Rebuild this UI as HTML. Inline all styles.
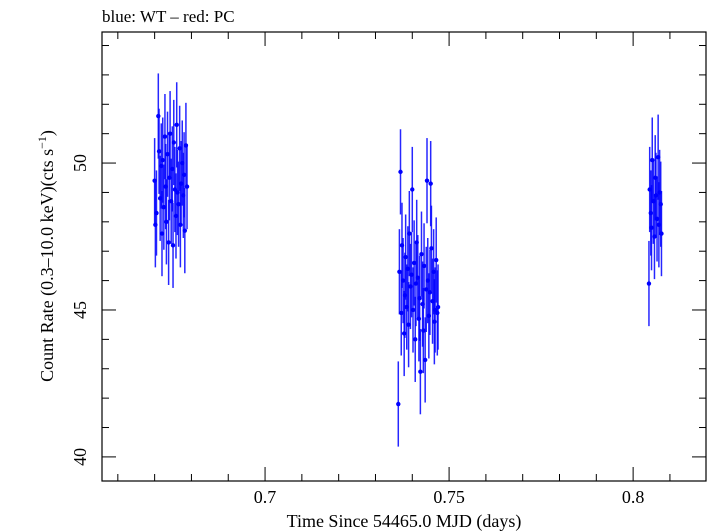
<!DOCTYPE html>
<html><head><meta charset="utf-8"><style>
html,body{margin:0;padding:0;background:#fff;}
svg{display:block;font-family:"Liberation Serif",serif;}
</style></head><body>
<svg id="chart" width="709" height="532" viewBox="0 0 709 532">
<text x="102" y="22" font-size="17" fill="#000">blue: WT – red: PC</text>
<rect x="102" y="32" width="604" height="449" fill="none" stroke="#000" stroke-width="1.2"/>
<g id="axes"></g>
<g id="marks"></g>
<text x="404" y="527" font-size="18" text-anchor="middle">Time Since 54465.0 MJD (days)</text>
<text transform="translate(53,256) rotate(-90)" font-size="18" text-anchor="middle">Count Rate (0.3–10.0 keV)(cts s<tspan baseline-shift="super" font-size="12">−1</tspan>)</text>
</svg>
<script>
const times = [0.6700,0.6702,0.6705,0.6710,0.6712,0.6715,0.6718,0.6720,0.6722,0.6725,0.6728,0.6730,0.6732,0.6735,0.6738,0.6740,0.6742,0.6745,0.6748,0.6750,0.6752,0.6755,0.6758,0.6760,0.6762,0.6765,0.6768,0.6770,0.6772,0.6775,0.6778,0.6780,0.6782,0.6785,0.6788,
0.7362,0.7365,0.7368,0.7370,0.7372,0.7375,0.7378,0.7380,0.7382,0.7385,0.7388,0.7390,0.7392,0.7395,0.7398,0.7400,0.7402,0.7405,0.7408,0.7410,0.7412,0.7415,0.7418,0.7420,0.7422,0.7425,0.7428,0.7430,0.7432,0.7435,0.7438,0.7440,0.7442,0.7445,0.7448,0.7450,0.7452,0.7455,0.7458,0.7460,0.7462,0.7465,0.7468,0.7470,
0.8043,0.8045,0.8048,0.8050,0.8052,0.8055,0.8058,0.8060,0.8062,0.8065,0.8068,0.8070,0.8072,0.8075,0.8077];
const rates = [49.4,47.9,48.3,51.6,50.4,48.8,49.9,47.6,50.1,48.5,50.9,49.2,48.0,50.3,47.3,49.5,51.0,48.7,49.8,47.2,50.7,49.1,48.2,51.3,49.0,48.6,50.5,47.9,49.3,50.0,48.9,49.6,47.7,50.6,49.2,
41.8,46.3,49.7,44.9,47.2,46.0,44.2,45.5,46.8,45.1,46.4,44.5,47.6,45.8,46.2,49.1,45.0,46.6,44.0,45.9,47.3,46.1,44.7,45.4,42.9,46.9,45.2,44.3,46.5,43.3,45.7,49.4,46.0,44.8,45.6,49.3,47.1,45.3,46.3,44.6,45.0,46.7,44.9,45.1,
45.9,49.1,48.3,47.8,50.1,48.7,47.5,49.5,48.9,48.1,50.2,47.9,49.0,48.6,47.6];
const errors = times.map(()=>1.45);
const xTickLabels = ["0.7","0.75","0.8"];
const yTickLabels = ["40","45","50"];

const X0=102,X1=706,Y0=481,Y1=32;
const xMin=0.6557,xMax=0.8198,yMin=39.18,yMax=54.46;
const sx=v=>X0+(v-xMin)/(xMax-xMin)*(X1-X0);
const sy=v=>Y0-(v-yMin)/(yMax-yMin)*(Y0-Y1);
const NS="http://www.w3.org/2000/svg";
const axes=document.getElementById('axes'), marks=document.getElementById('marks');
function mk(tag,attrs,parent){const e=document.createElementNS(NS,tag);for(const k in attrs)e.setAttribute(k,attrs[k]);parent.appendChild(e);return e;}
// x ticks
for(let i=Math.ceil(xMin*100);i<=Math.floor(xMax*100);i++){
  const v=i/100, x=sx(v), major=(i%5===0), L=major?14:7;
  const t1=mk('line',{x1:x,x2:x,y1:Y0,y2:Y0-L,stroke:'#000','stroke-width':1},axes);
  
  
  const t2=mk('line',{x1:x,x2:x,y1:Y1,y2:Y1+L,stroke:'#000','stroke-width':1},axes);
  
  
}
xTickLabels.forEach(s=>{
  const t=mk('text',{x:sx(parseFloat(s)),y:503,'font-size':18,'text-anchor':'middle'},axes);
  t.textContent=s;
  
  
});
for(let v=Math.ceil(yMin);v<=Math.floor(yMax);v++){
  const y=sy(v), major=(v%5===0), L=major?14:7;
  const t1=mk('line',{x1:X0,x2:X0+L,y1:y,y2:y,stroke:'#000','stroke-width':1},axes);
  
  
  const t2=mk('line',{x1:X1,x2:X1-L,y1:y,y2:y,stroke:'#000','stroke-width':1},axes);
  
  
}
yTickLabels.forEach(s=>{
  const y=sy(parseFloat(s));
  const t=mk('text',{transform:`translate(86,${y}) rotate(-90)`,'font-size':18,'text-anchor':'middle'},axes);
  t.textContent=s;
  
  
});
times.forEach((t,i)=>{
  const x=sx(t), y=sy(rates[i]);
  const l=mk('line',{x1:x,x2:x,y1:sy(rates[i]+errors[i]),y2:sy(rates[i]-errors[i]),stroke:'#0000ff','stroke-width':1.5,'stroke-opacity':0.85},marks);
  
  
  const c=mk('circle',{cx:x,cy:y,r:2.2,fill:'#0000ff'},marks);
  
  
});
</script>
</body></html>
